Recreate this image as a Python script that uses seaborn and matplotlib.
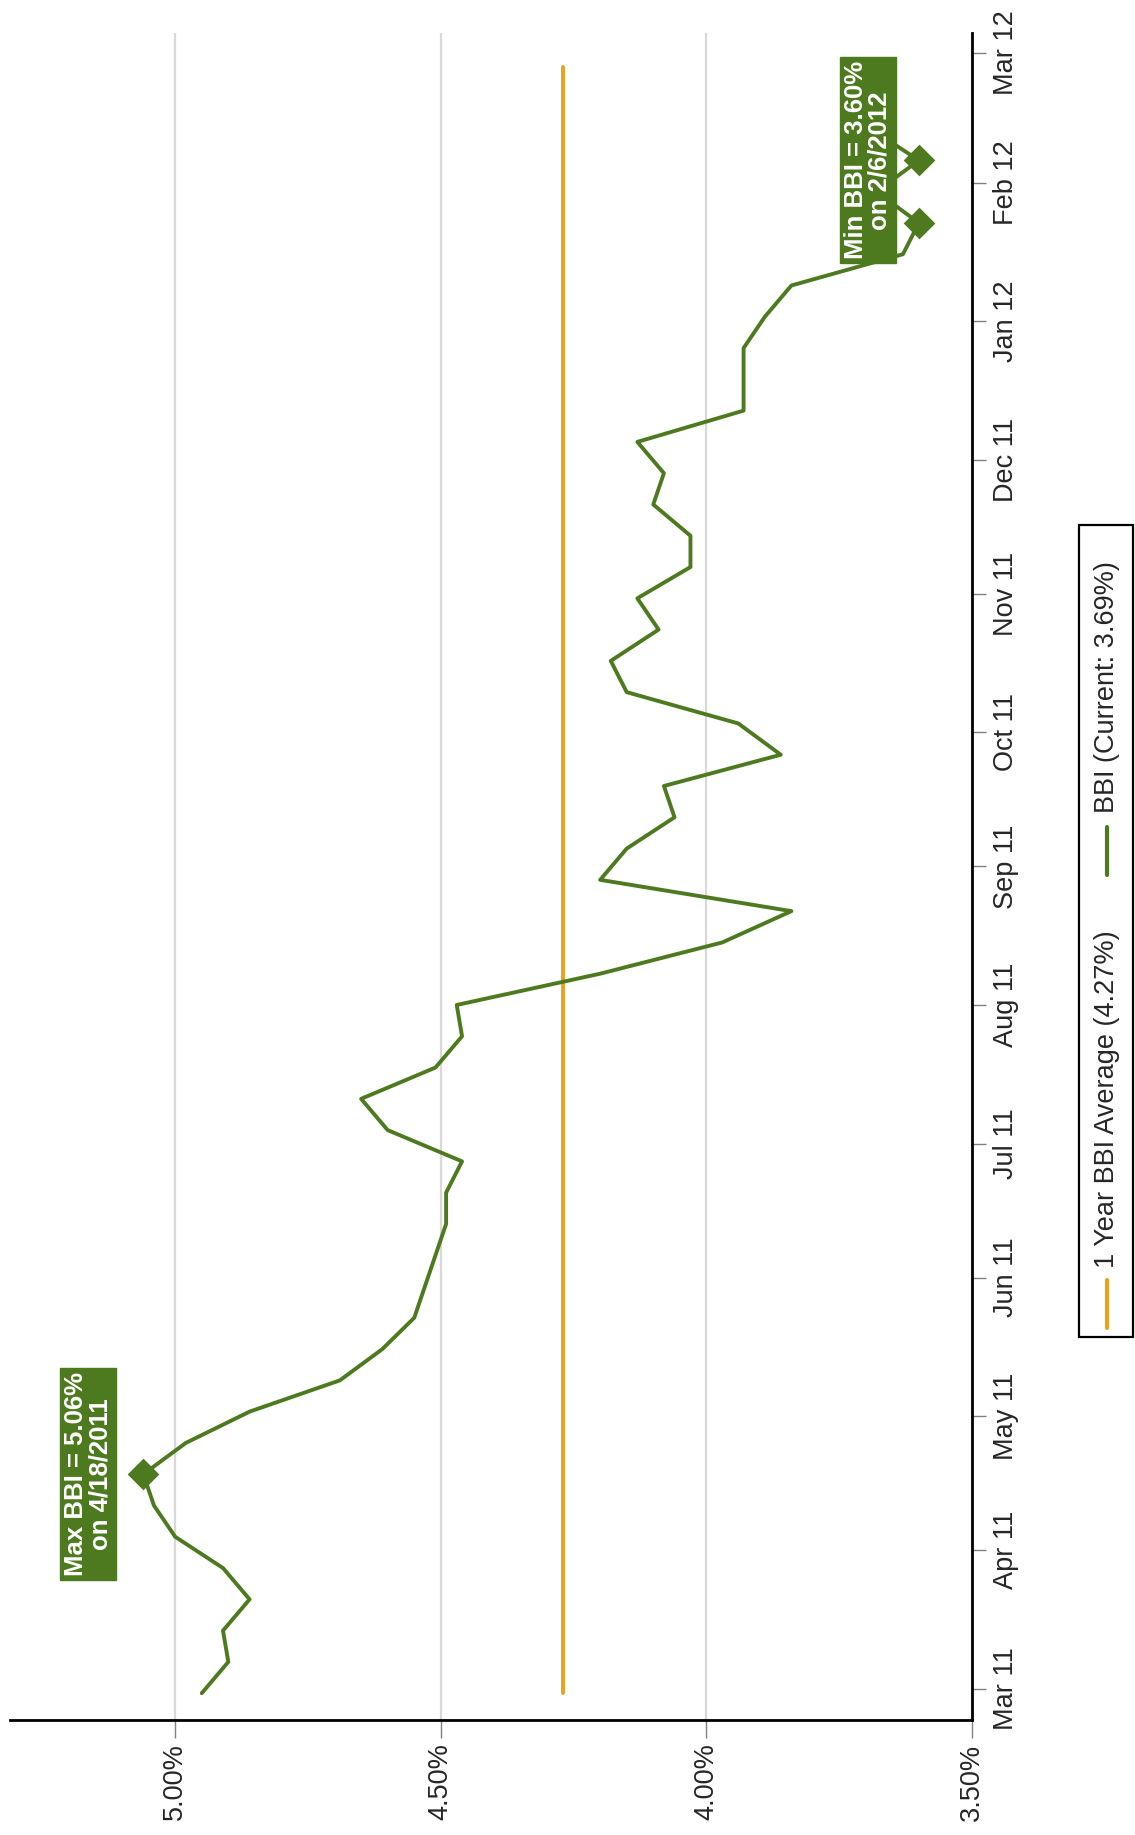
"""BBI semanal (rotado 90°): valores en el eje horizontal, fechas en el vertical."""

import matplotlib
matplotlib.use("Agg")

import matplotlib.dates as mdates
import matplotlib.pyplot as plt
import numpy as np
import pandas as pd
import seaborn as sns
from matplotlib.lines import Line2D
from matplotlib.patches import Rectangle
from matplotlib.ticker import FixedLocator, FuncFormatter

GREEN = "#4E7A1F"
ORANGE = "#E8A21E"
GRID = "#D9D9D9"

# semanas (lunes) de feb-2011 a feb-2012
WEEKS = pd.date_range("2011-02-28", "2012-02-27", freq="7D")
BBI = [4.95, 4.90, 4.91, 4.86, 4.91, 5.00, 5.04, 5.06, 4.98, 4.86,
       4.69, 4.61, 4.55, 4.53, 4.51, 4.49, 4.49, 4.46, 4.60, 4.65,
       4.51, 4.46, 4.47, 4.20, 3.97, 3.84, 4.20, 4.15, 4.06, 4.08,
       3.86, 3.94, 4.15, 4.18, 4.09, 4.13, 4.03, 4.03, 4.10, 4.08,
       4.13, 3.93, 3.93, 3.93, 3.89, 3.84, 3.63, 3.60, 3.68, 3.60,
       3.69, 3.70, 3.69]
AVG_DATES = ["2011-02-28", "2012-02-27"]
AVG = [4.27, 4.27]
EXTREME_DATES = ["2011-04-18", "2012-01-23", "2012-02-06"]
EXTREME_VALS = [5.06, 3.60, 3.60]
VAL_TICKS = [5.0, 4.5, 4.0, 3.5]
LEGEND_LABELS = ["1 Year BBI Average (4.27%)", "BBI (Current: 3.69%)"]

W, H = 1135, 1835


def fx(x):
    return x / W


def fy(y):
    return 1 - y / H


def main():
    sns.set_theme(style="white")
    plt.rcParams["font.family"] = ["Liberation Sans", "DejaVu Sans"]

    df = pd.DataFrame({"date": WEEKS, "bbi": BBI})
    avg = pd.DataFrame({"date": pd.to_datetime(AVG_DATES), "bbi": AVG})
    ext = pd.DataFrame({"date": pd.to_datetime(EXTREME_DATES), "bbi": EXTREME_VALS})

    fig = plt.figure(figsize=(W / 100, H / 100), dpi=100)
    ax = fig.add_axes([fx(10), fy(1720), fx(972) - fx(10), fy(33) - fy(1720)])

    for v in VAL_TICKS:
        ax.axvline(v, color=GRID, lw=1.6, zorder=0)

    sns.lineplot(data=avg, x="bbi", y="date", orient="y", sort=False, estimator=None,
                 color=ORANGE, lw=2.8, ax=ax, zorder=2)
    sns.lineplot(data=df, x="bbi", y="date", orient="y", sort=False, estimator=None,
                 color=GREEN, lw=2.8, ax=ax, zorder=3)
    sns.scatterplot(data=ext, x="bbi", y="date", marker="D", s=260, color=GREEN,
                    edgecolor=GREEN, linewidth=0, ax=ax, zorder=4)

    box = dict(boxstyle="square,pad=0.15", fc=GREEN, ec=GREEN)
    ax.text(5.164, pd.Timestamp("2011-04-18"), "Max BBI = 5.06%\non 4/18/2011",
            rotation=90, ha="center", va="center", multialignment="center",
            color="white", fontsize=18.5, fontweight="bold", linespacing=1.0,
            bbox=box, zorder=6)
    ax.text(3.696, pd.Timestamp("2012-02-06"), "Min BBI = 3.60%\non 2/6/2012",
            rotation=90, ha="center", va="center", multialignment="center",
            color="white", fontsize=18.5, fontweight="bold", linespacing=1.0,
            bbox=box, zorder=6)

    ax.set_xlim(5.311, 3.5)
    ax.set_ylim(pd.Timestamp("2011-02-22"), pd.Timestamp("2012-03-05 12:00"))
    ax.xaxis.set_major_locator(FixedLocator(VAL_TICKS))
    ax.xaxis.set_major_formatter(FuncFormatter(lambda v, _: f"{v:.2f}%"))
    ax.yaxis.set_major_locator(mdates.MonthLocator())
    ax.yaxis.set_major_formatter(mdates.DateFormatter("%b %y"))
    ax.yaxis.tick_right()
    ax.set(xlabel="", ylabel="")

    ax.tick_params(axis="x", direction="out", length=13, width=1, color="#808080",
                   labelrotation=90, labelsize=19.5, pad=4, bottom=True)
    ax.tick_params(axis="y", direction="out", length=10, width=1, color="#808080",
                   labelrotation=90, labelsize=19.5, pad=5, right=True, left=False)
    for lab in ax.get_yticklabels():
        lab.set_va("center")

    for side in ("top", "left"):
        ax.spines[side].set_visible(False)
    for side in ("bottom", "right"):
        ax.spines[side].set_color("black")
        ax.spines[side].set_linewidth(2.0)

    # leyenda girada, construida a mano
    fig.patches.append(Rectangle((fx(1079), fy(1337)), fx(1133) - fx(1079),
                                 fy(525) - fy(1337), transform=fig.transFigure,
                                 fc="white", ec="black", lw=1.6))
    for (y0, y1, yt), col, lab in zip([(1328, 1280, 1268), (875, 827, 813)],
                                      [ORANGE, GREEN], LEGEND_LABELS):
        fig.add_artist(Line2D([fx(1107), fx(1107)], [fy(y0), fy(y1)],
                              transform=fig.transFigure, color=col, lw=3))
        fig.text(fx(1107), fy(yt), lab, rotation=90, ha="center", va="bottom",
                 fontsize=19.5)

    fig.savefig("out.png", dpi=100)


if __name__ == "__main__":
    main()
